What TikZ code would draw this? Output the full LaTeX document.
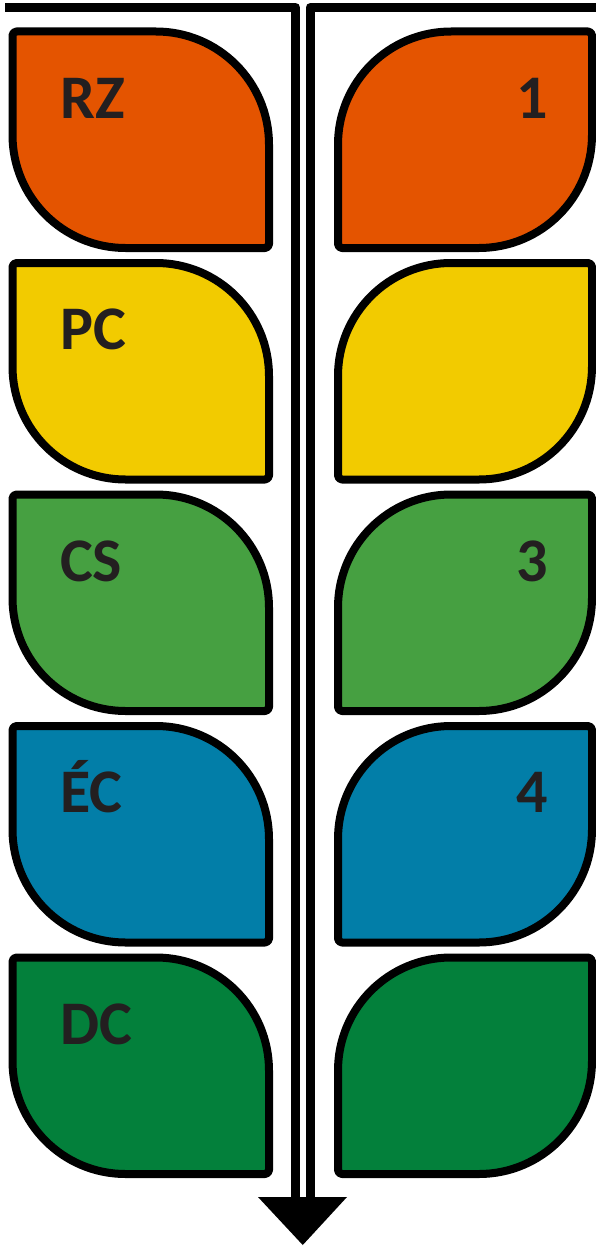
\documentclass[tikz,border=0pt]{standalone}
\usepackage{fontspec}
\setmainfont{Carlito}
\definecolor{txt}{HTML}{231F20}
\definecolor{cOrange}{HTML}{E45400}
\definecolor{cYellow}{HTML}{F2CB00}
\definecolor{cGreen}{HTML}{46A041}
\definecolor{cBlue}{HTML}{027EA8}
\definecolor{cDark}{HTML}{03803B}
\newcommand\LeafLeft[2]{%
  \pgfmathsetmacro\ya{#1}\pgfmathsetmacro\yb{#1+216.5}%
  \draw[leafline,fill=#2] (12.5,\ya+4) arc[start angle=180,end angle=270,radius=4]
    -- (269-113,\ya) arc[start angle=270,end angle=360,radius=113]
    -- (269,\yb-4) arc[start angle=0,end angle=90,radius=4]
    -- (12.5+113,\yb) arc[start angle=90,end angle=180,radius=113] -- cycle;}
\newcommand\LeafRight[2]{%
  \pgfmathsetmacro\ya{#1}\pgfmathsetmacro\yb{#1+216.5}%
  \draw[leafline,fill=#2] (338,\ya+113) arc[start angle=180,end angle=270,radius=113]
    -- (592-4,\ya) arc[start angle=270,end angle=360,radius=4]
    -- (592,\yb-113) arc[start angle=0,end angle=90,radius=113]
    -- (338+4,\yb) arc[start angle=90,end angle=180,radius=4] -- cycle;}
\begin{document}
\begin{tikzpicture}[x=1pt,y=-1pt,
  leafline/.style={draw=black,line width=8,line join=round},
  frameline/.style={draw=black,line width=9,line join=round},
  lbl/.style={inner sep=0,text=txt,font=\fontsize{62}{62}\selectfont\bfseries}]
\useasboundingbox (0,0) rectangle (596,1247);
\LeafLeft{31.5}{cOrange}
\LeafRight{31.5}{cOrange}
\LeafLeft{263}{cYellow}
\LeafRight{263}{cYellow}
\LeafLeft{494.5}{cGreen}
\LeafRight{494.5}{cGreen}
\LeafLeft{726}{cBlue}
\LeafRight{726}{cBlue}
\LeafLeft{957.5}{cDark}
\LeafRight{957.5}{cDark}
\node[lbl,anchor=base west] (rz) at (60,118) {RZ};
\node[lbl,anchor=base west] (pc) at (60,349.5) {PC};
\node[lbl,anchor=base west] (cs) at (60,581) {CS};
\node[lbl,anchor=base west] (ec) at (60,812.5) {ÉC};
\node[lbl,anchor=base west] (dc) at (60,1044) {DC};
\node[lbl,anchor=base east] (n1) at (548,118) {1};
\node[lbl,anchor=base east] (n3) at (548,581) {3};
\node[lbl,anchor=base east] (n4) at (548,812.5) {4};
\coordinate (tl) at (5,7.5);
\coordinate (tr) at (600,7.5);
\coordinate (bl) at (295.5,1198);
\coordinate (br) at (310,1198);
\draw[frameline] (tl) -- (295.5,7.5) -- (bl);
\draw[frameline] (tr) -- (310,7.5) -- (br);
\coordinate (ha) at (258,1197);
\coordinate (hb) at (347,1197);
\coordinate (hc) at (302.75,1245);
\fill[black] (ha) -- (hb) -- (hc) -- cycle;
\end{tikzpicture}
\end{document}
